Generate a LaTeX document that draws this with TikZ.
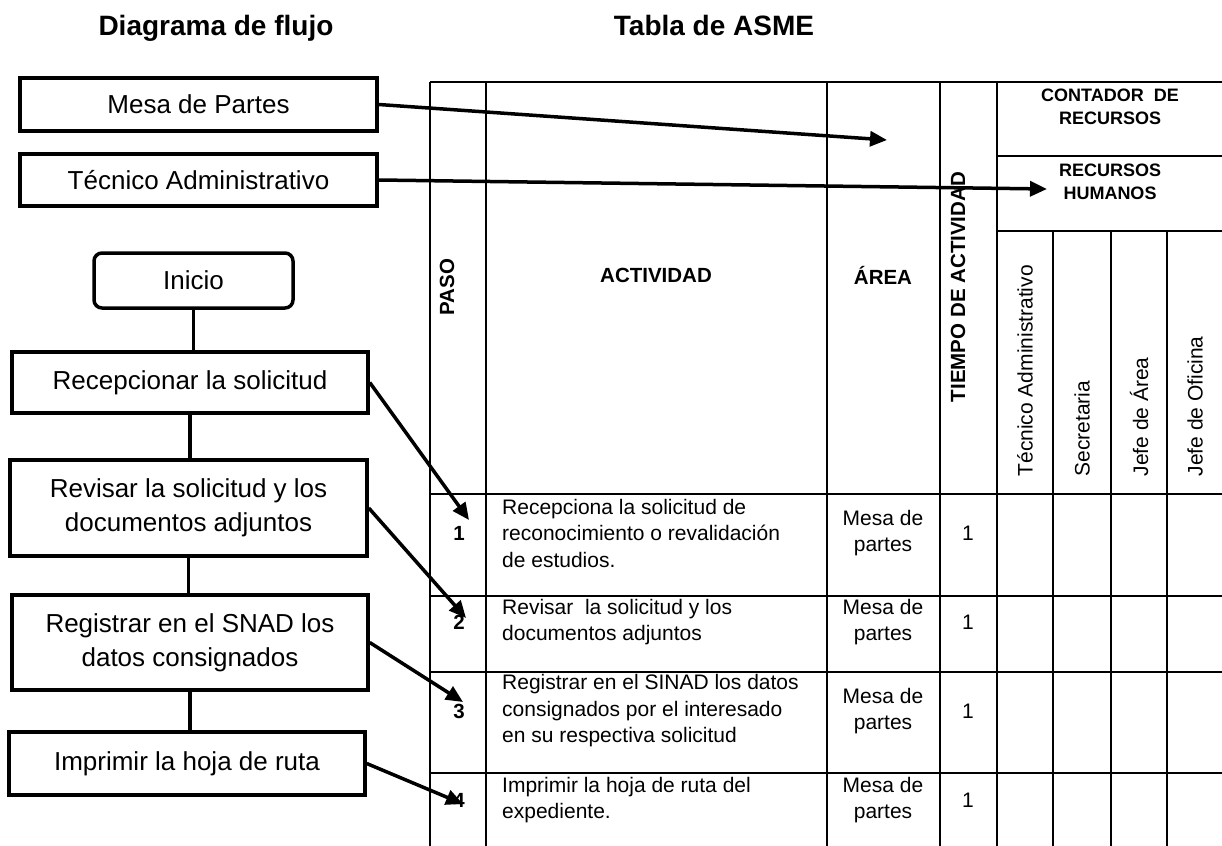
\documentclass[tikz,border=0pt]{standalone}
\usepackage{fontspec}
\setmainfont{Liberation Sans}
\usetikzlibrary{arrows.meta}
\newcommand*{\grosor}{3.5pt}
\newcommand*{\derecha}{1226}
\newcommand*{\fuentecaja}{\fontsize{26}{34}\selectfont}
\newcommand*{\fuentetitulo}{\fontsize{28}{34}\selectfont\bfseries}
\newcommand*{\fuentecab}{\fontsize{20.5}{24}\selectfont\bfseries}
\newcommand*{\fuenterec}{\fontsize{18}{23}\selectfont\bfseries}
\newcommand*{\fuentecelda}{\fontsize{21}{26.5}\selectfont}

\begin{document}
\begin{tikzpicture}[x=1pt, y=-1pt,
  caja/.style={draw, line width=\grosor, minimum width=356pt, inner sep=0pt,
    align=center, font=\fuentecaja},
  enlace/.style={line width=\grosor},
  flecha/.style={line width=\grosor, -{Triangle[length=17pt, width=15pt]}},
  tabla/.style={line width=2pt}]
  \useasboundingbox (0, 0) rectangle (1222, 845);

  \node[font=\fuentetitulo, anchor=base] (titflujo) at (216, 36) {Diagrama de flujo};
  \node[font=\fuentetitulo, anchor=base] (titasme) at (714, 36) {Tabla de ASME};

  % tabla de ASME
  \draw[tabla] (430, 82) -- (\derecha, 82);
  \draw[tabla] (997, 156) -- (\derecha, 156);
  \draw[tabla] (997, 231) -- (\derecha, 231);
  \draw[tabla] (430, 494) -- (\derecha, 494);
  \draw[tabla] (430, 596) -- (\derecha, 596);
  \draw[tabla] (430, 672) -- (\derecha, 672);
  \draw[tabla] (430, 773) -- (\derecha, 773);

  \draw[tabla] (430, 82) -- (430, 850);
  \draw[tabla] (486, 82) -- (486, 850);
  \draw[tabla] (827, 82) -- (827, 850);
  \draw[tabla] (940, 82) -- (940, 850);
  \draw[tabla] (997, 82) -- (997, 850);
  \draw[tabla] (1053, 231) -- (1053, 850);
  \draw[tabla] (1111, 231) -- (1111, 850);
  \draw[tabla] (1167, 231) -- (1167, 850);
  \draw[tabla] (1224, 82) -- (1224, 850);

  \node[font=\fuentecab, rotate=90] (hpaso) at (447, 287) {PASO};
  \node[font=\fuentecab] (hact) at (656, 275) {ACTIVIDAD};
  \node[font=\fuentecab] (harea) at (883, 275) {ÁREA};
  \node[font=\fuentecab, rotate=90] (htiempo) at (958, 287) {TIEMPO DE ACTIVIDAD};
  \node[font=\fuenterec, align=center] (hcontador) at (1110, 107)
    {CONTADOR\ \ DE\\RECURSOS};
  \node[font=\fuenterec, align=center] (hhumanos) at (1110, 182)
    {RECURSOS\\HUMANOS};
  \node[font=\fuentecelda, rotate=90, anchor=west] (htecnico) at (1025, 480)
    {Técnico Administrativo};
  \node[font=\fuentecelda, rotate=90, anchor=west] (hsecre) at (1082, 480)
    {Secretaria};
  \node[font=\fuentecelda, rotate=90, anchor=west] (hjarea) at (1139, 480)
    {Jefe de Área};
  \node[font=\fuentecelda, rotate=90, anchor=west] (hjofi) at (1195, 480)
    {Jefe de Oficina};

  \node[font=\fuentecab] (p1) at (459, 533) {1};
  \node[font=\fuentecelda, align=left, anchor=west, inner sep=0pt] (a1) at (502, 533)
    {Recepciona la solicitud de\\reconocimiento o revalidación\\de estudios.};
  \node[font=\fuentecelda, align=center] (r1) at (883, 533) {Mesa de\\partes};
  \node[font=\fuentecelda] (t1) at (968, 533) {1};

  \node[font=\fuentecab] (p2) at (459, 622) {2};
  \node[font=\fuentecelda, align=left, anchor=west, inner sep=0pt] (a2) at (502, 622)
    {Revisar\ \ la solicitud y los\\documentos adjuntos};
  \node[font=\fuentecelda, align=center] (r2) at (883, 622) {Mesa de\\partes};
  \node[font=\fuentecelda] (t2) at (968, 622) {1};

  \node[font=\fuentecab] (p3) at (459, 711) {3};
  \node[font=\fuentecelda, align=left, anchor=west, inner sep=0pt] (a3) at (502, 711)
    {Registrar en el SINAD los datos\\consignados por el interesado\\en su respectiva solicitud};
  \node[font=\fuentecelda, align=center] (r3) at (883, 711) {Mesa de\\partes};
  \node[font=\fuentecelda] (t3) at (968, 711) {1};

  \node[font=\fuentecab] (p4) at (459, 800) {4};
  \node[font=\fuentecelda, align=left, anchor=west, inner sep=0pt] (a4) at (502, 800)
    {Imprimir la hoja de ruta del\\expediente.};
  \node[font=\fuentecelda, align=center] (r4) at (883, 800) {Mesa de\\partes};
  \node[font=\fuentecelda] (t4) at (968, 800) {1};

  % diagrama de flujo
  \node[caja, minimum width=357pt, minimum height=53pt] (mesa) at (198.5, 104.5)
    {Mesa de Partes};
  \node[caja, minimum width=357pt, minimum height=52pt] (tecnico) at (198.5, 180)
    {Técnico Administrativo};
  \node[caja, minimum width=199pt, minimum height=55pt, rounded corners=8pt] (inicio)
    at (193.5, 280.5) {Inicio};
  \node[caja, minimum height=61pt] (recep) at (190, 382.5)
    {Recepcionar la solicitud};
  \node[caja, minimum width=357pt, minimum height=96pt] (revisar) at (188.5, 508)
    {Revisar la solicitud y los\\documentos adjuntos};
  \node[caja, minimum height=95pt] (registrar) at (190, 642.5)
    {Registrar en el SNAD los\\datos consignados};
  \node[caja, minimum height=63pt] (imprimir) at (187, 763.5)
    {Imprimir la hoja de ruta};

  \draw[enlace] (inicio) -- (inicio |- recep.north);
  \draw[enlace] (recep) -- (recep |- revisar.north);
  \draw[enlace] (revisar) -- (revisar |- registrar.north);
  \draw[enlace] (registrar) -- (registrar |- imprimir.north);

  \coordinate (fmesa) at (887, 140);
  \coordinate (ftecnico) at (1047, 189);
  \coordinate (fpaso1) at (469, 520);
  \coordinate (fpaso2) at (466, 618);
  \coordinate (fpaso3) at (463, 702);
  \coordinate (fpaso4) at (463, 804);

  \draw[flecha] (mesa.east) -- (fmesa);
  \draw[flecha] (tecnico.east) -- (ftecnico);
  \draw[flecha] (recep.east) -- (fpaso1);
  \draw[flecha] (revisar.east) -- (fpaso2);
  \draw[flecha] (registrar.east) -- (fpaso3);
  \draw[flecha] (imprimir.east) -- (fpaso4);
\end{tikzpicture}
\end{document}
